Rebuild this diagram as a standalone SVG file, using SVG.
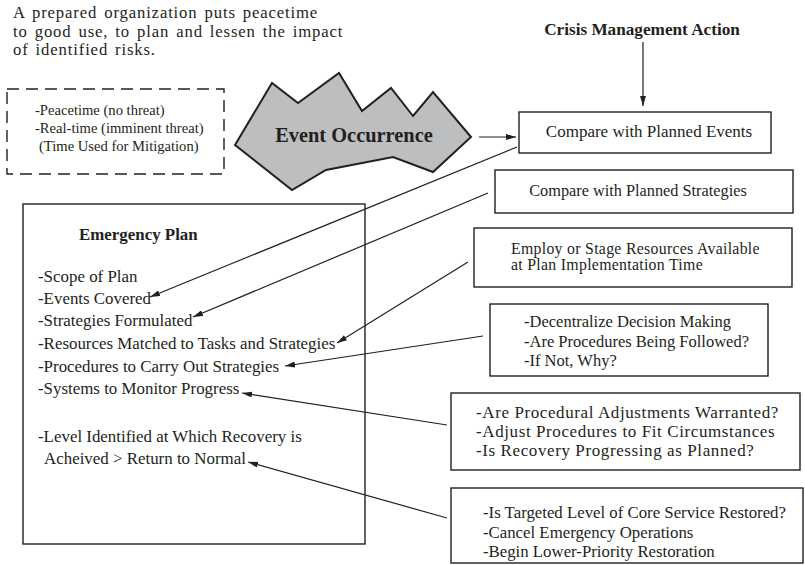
<svg xmlns="http://www.w3.org/2000/svg" width="805" height="565" viewBox="0 0 805 565">
  <defs>
    <marker id="arrow" viewBox="0 0 10 6" refX="10" refY="3" markerWidth="10" markerHeight="6" markerUnits="userSpaceOnUse" orient="auto">
      <path d="M0,0 L10,3 L0,6 z" fill="#231f20"/>
    </marker>
    <style>
      text { font-family: "Liberation Serif", "Times New Roman", serif; fill: #231f20; }
      .body { font-size: 16.5px; }
      .plan { font-size: 16.9px; }
      .small { font-size: 14.6px; }
      .title { font-size: 17.2px; font-weight: bold; }
      .box { fill: #ffffff; stroke: #231f20; stroke-width: 1.4; }
      .dash { fill: none; stroke: #231f20; stroke-width: 1.4; stroke-dasharray: 12 7; }
      .link { fill: none; stroke: #231f20; stroke-width: 1.2; marker-end: url(#arrow); }
    </style>
  </defs>
  <rect width="805" height="565" fill="#ffffff"/>

  <!-- intro note -->
  <g id="intro">
    <text style="font-size:16.7px;letter-spacing:0.85px;word-spacing:2px">
      <tspan x="13" y="18">A prepared organization puts peacetime</tspan>
      <tspan x="13" y="36.5">to good use, to plan and lessen the impact</tspan>
      <tspan x="13" y="55">of identified risks.</tspan>
    </text>
  </g>

  <!-- time frames -->
  <g id="timeframes">
    <rect class="dash" x="7" y="89" width="217" height="85"/>
    <text class="small">
      <tspan x="35" y="115">-Peacetime (no threat)</tspan>
      <tspan x="35" y="133">-Real-time (imminent threat)</tspan>
      <tspan x="39" y="151">(Time Used for Mitigation)</tspan>
    </text>
  </g>

  <!-- event burst -->
  <g id="event">
    <polygon points="235,145 272,83 298,103 339,73 362,111 391,88 413,116 433,92 471,137 433,172 393,157 326,170 292,190" fill="#bcbec0" stroke="#231f20" stroke-width="2" stroke-linejoin="miter"/>
    <text x="354" y="142" text-anchor="middle" style="font-size:20.4px;font-weight:bold">Event Occurrence</text>
  </g>

  <!-- crisis management heading -->
  <g id="crisis">
    <text class="title" x="642" y="35" text-anchor="middle">Crisis Management Action</text>
  </g>

  <g id="planned-events">
    <rect class="box" x="519" y="112" width="252" height="41"/>
    <text x="649" y="137" text-anchor="middle" style="font-size:17px">Compare with Planned Events</text>
  </g>

  <g id="planned-strategies">
    <rect class="box" x="495" y="170" width="298" height="43"/>
    <text x="638" y="196" text-anchor="middle" style="font-size:16.3px">Compare with Planned Strategies</text>
  </g>

  <g id="resources">
    <rect class="box" x="474" y="228" width="318" height="59"/>
    <text style="font-size:15.8px;letter-spacing:0.3px">
      <tspan x="511" y="254">Employ or Stage Resources Available</tspan>
      <tspan x="511" y="270">at Plan Implementation Time</tspan>
    </text>
  </g>

  <g id="decision">
    <rect class="box" x="490" y="304" width="278" height="72"/>
    <text class="body">
      <tspan x="524" y="327">-Decentralize Decision Making</tspan>
      <tspan x="524" y="347">-Are Procedures Being Followed?</tspan>
      <tspan x="524" y="366">-If Not, Why?</tspan>
    </text>
  </g>

  <g id="adjustments">
    <rect class="box" x="451" y="393" width="349" height="77"/>
    <text style="font-size:17px;letter-spacing:0.6px">
      <tspan x="476" y="418">-Are Procedural Adjustments Warranted?</tspan>
      <tspan x="476" y="437">-Adjust Procedures to Fit Circumstances</tspan>
      <tspan x="476" y="456">-Is Recovery Progressing as Planned?</tspan>
    </text>
  </g>

  <g id="restoration">
    <rect class="box" x="451" y="488" width="352" height="75"/>
    <text style="font-size:16.8px">
      <tspan x="483" y="518">-Is Targeted Level of Core Service Restored?</tspan>
      <tspan x="483" y="538">-Cancel Emergency Operations</tspan>
      <tspan x="483" y="557">-Begin Lower-Priority Restoration</tspan>
    </text>
  </g>

  <!-- emergency plan -->
  <g id="emergency-plan">
    <rect class="box" x="23" y="204" width="342" height="340"/>
    <text class="title" x="79" y="240" style="font-size:16.9px">Emergency Plan</text>
    <text class="plan">
      <tspan x="38" y="282">-Scope of Plan</tspan>
      <tspan x="38" y="304">-Events Covered</tspan>
      <tspan x="38" y="326">-Strategies Formulated</tspan>
      <tspan x="38" y="349">-Resources Matched to Tasks and Strategies</tspan>
      <tspan x="38" y="372">-Procedures to Carry Out Strategies</tspan>
      <tspan x="38" y="394">-Systems to Monitor Progress</tspan>
      <tspan x="38" y="442">-Level Identified at Which Recovery is</tspan>
      <tspan x="44" y="464">Acheived &gt; Return to Normal</tspan>
    </text>
  </g>

  <!-- connectors -->
  <g id="connectors">
    <line class="link" x1="643" y1="42" x2="643" y2="106"/>
    <line class="link" x1="479" y1="137" x2="516" y2="137"/>
    <line class="link" x1="517" y1="147" x2="150" y2="297"/>
    <line class="link" x1="488" y1="193" x2="193" y2="317"/>
    <line class="link" x1="468" y1="262" x2="337" y2="343"/>
    <line class="link" x1="483" y1="336" x2="285" y2="366"/>
    <line class="link" x1="447" y1="425" x2="242" y2="393"/>
    <line class="link" x1="447" y1="518" x2="248" y2="462"/>
  </g>
</svg>
